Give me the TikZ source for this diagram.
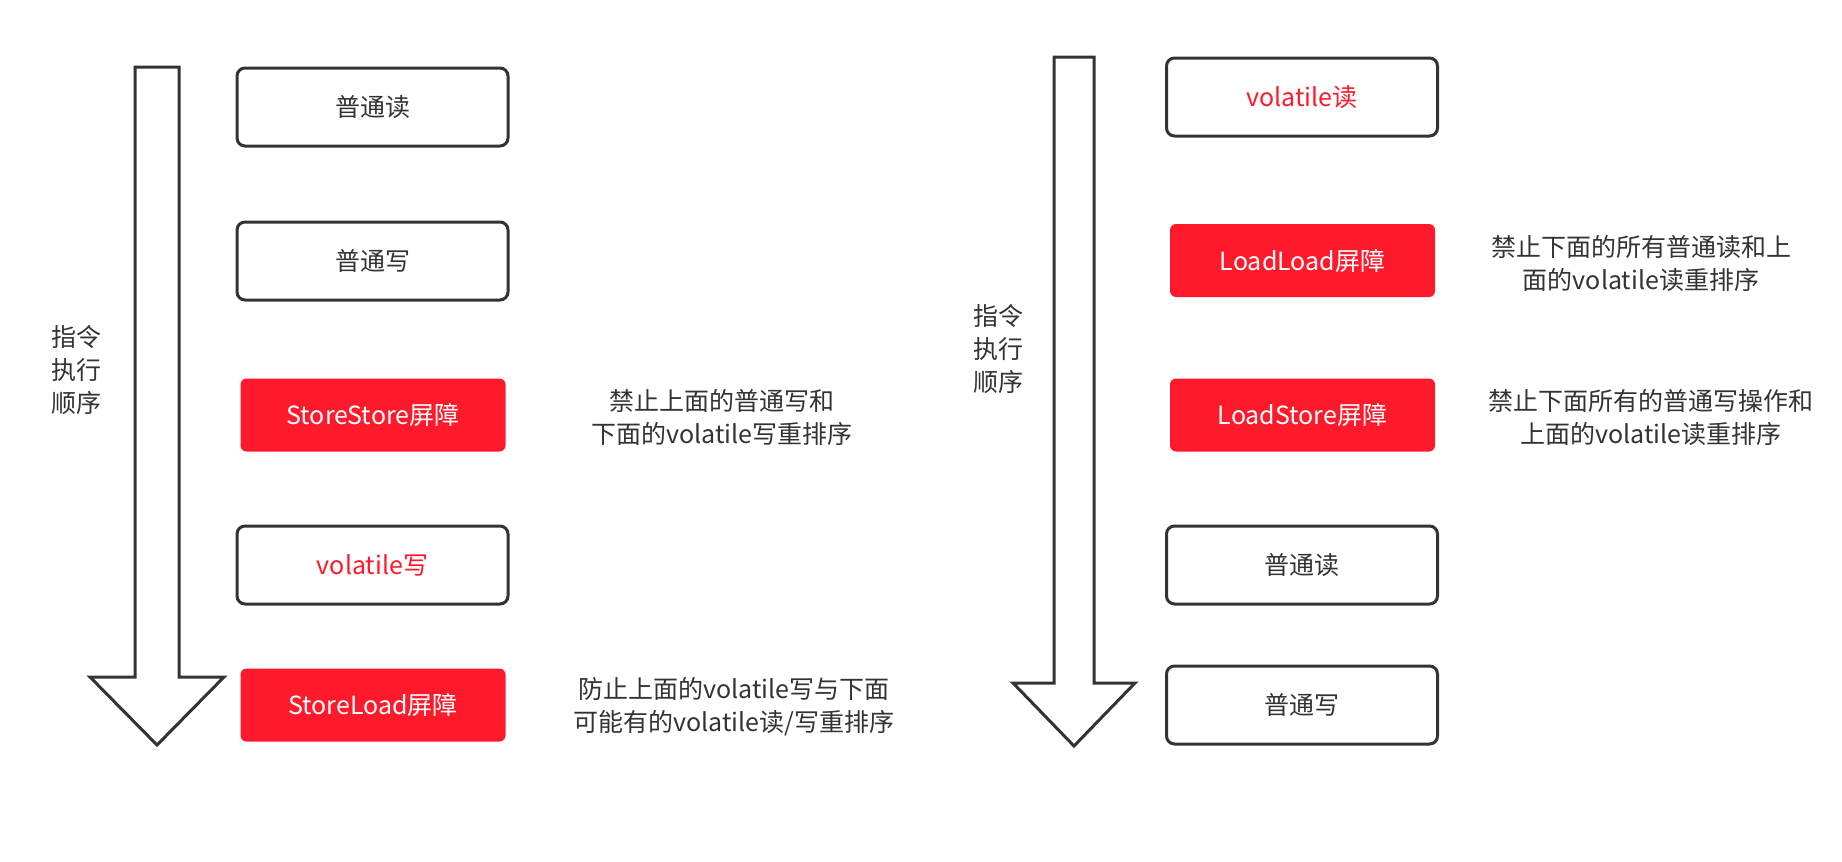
\documentclass[tikz,border=0pt]{standalone}
\usepackage{fontspec}
\setmainfont{Noto Sans CJK SC}
\definecolor{barrier}{HTML}{FF1A2B}
\definecolor{ink}{HTML}{333333}
\begin{document}
\begin{tikzpicture}[x=1pt,y=-1pt,
  every node/.style={font=\fontsize{25pt}{33pt}\selectfont, text=ink},
  wbox/.style={draw=ink, line width=3pt, fill=white, rounded corners=8pt,
    minimum width=271pt, minimum height=78pt, inner sep=0pt},
  rbox/.style={fill=barrier, rounded corners=6pt, text=white,
    minimum width=265pt, minimum height=73pt, inner sep=0pt},
  note/.style={align=center, inner sep=0pt},
  flow/.style={draw=ink, line width=3pt, fill=white, line join=miter}]
\useasboundingbox (0,0) rectangle (1842,862);
\fill[white] (0,0) rectangle (1842,862);

% ---------- left column ----------
\draw[flow] (135,67) -- (179,67) -- (179,677) -- (224,677) -- (157,745)
  -- (90,677) -- (135,677) -- cycle;
\node[note] (lblL) at (76,370) {指令\\执行\\顺序};

\node[wbox] (l1) at (372.5,107) {普通读};
\node[wbox] (l2) at (372.5,261) {普通写};
\node[rbox] (l3) at (373,415) {StoreStore屏障};
\node[wbox] (l4) at (372.5,565) {\textcolor{barrier}{volatile写}};
\node[rbox] (l5) at (373,705) {StoreLoad屏障};

\node[note] (nl3) at (722,417) {禁止上面的普通写和\\下面的volatile写重排序};
\node[note] (nl5) at (734,707) {防止上面的volatile写与下面\\可能有的volatile读/写重排序};

% ---------- right column ----------
\draw[flow] (1054,57) -- (1094,57) -- (1094,683) -- (1135,683) -- (1074,746)
  -- (1013,683) -- (1054,683) -- cycle;
\node[note] (lblR) at (998,349) {指令\\执行\\顺序};

\node[wbox] (r1) at (1302,97) {\textcolor{barrier}{volatile读}};
\node[rbox] (r2) at (1302.5,260.5) {LoadLoad屏障};
\node[rbox] (r3) at (1302.5,415) {LoadStore屏障};
\node[wbox] (r4) at (1302,565) {普通读};
\node[wbox] (r5) at (1302,705) {普通写};

\node[note] (nr2) at (1641,264) {禁止下面的所有普通读和上\\面的volatile读重排序};
\node[note] (nr3) at (1651,418) {禁止下面所有的普通写操作和\\上面的volatile读重排序};
\end{tikzpicture}
\end{document}
